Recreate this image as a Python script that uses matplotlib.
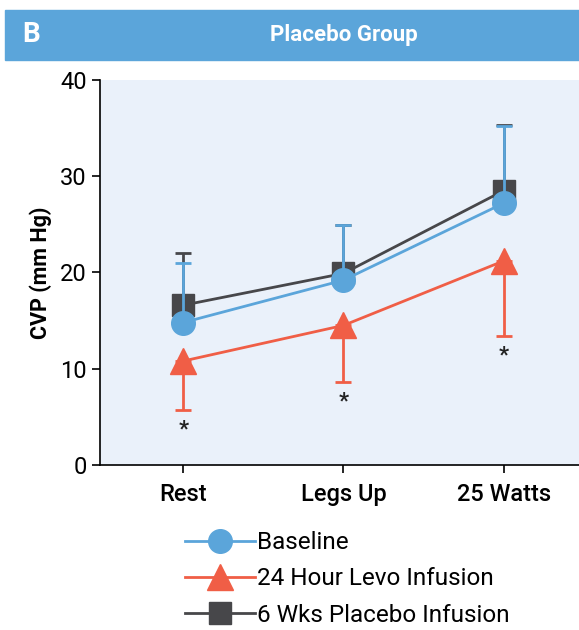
import numpy as np
import matplotlib.pyplot as plt
from matplotlib.patches import Rectangle

plt.rcParams['font.family'] = ['Roboto', 'DejaVu Sans']

categories = ['Rest', 'Legs Up', '25 Watts']
baseline = [14.8, 19.2, 27.2]
baseline_err = [6.2, 5.7, 8.0]
levo = [10.8, 14.5, 21.2]
levo_err = [5.1, 5.9, 7.8]
placebo = [16.6, 19.9, 28.5]
placebo_err = [5.4, 5.0, 6.8]
stars = ['*', '*', '*']

blue = '#5BA5DA'
red = '#F05E46'
gray = '#47474A'

fig = plt.figure(figsize=(5.79, 6.3), dpi=100)
ax = fig.add_axes([0.1727, 0.262, 0.83, 0.611])
ax.set_facecolor('#EAF1FA')

x = np.arange(len(categories))

# placebo (drawn first, sits behind baseline)
ax.errorbar(x, placebo, yerr=[np.zeros(3), placebo_err], color=gray, lw=2,
            marker='s', ms=16, capsize=6, capthick=2, zorder=2)
ax.errorbar(x, baseline, yerr=[np.zeros(3), baseline_err], color=blue, lw=2,
            marker='o', ms=17, capsize=6, capthick=2, zorder=3)
ax.errorbar(x, levo, yerr=[levo_err, np.zeros(3)], color=red, lw=2,
            marker='^', ms=19, capsize=6, capthick=2, zorder=4)

for xi, v, e, s in zip(x, levo, levo_err, stars):
    ax.text(xi, v - e - 0.9, s, ha='center', va='top', fontsize=16,
            fontweight='bold', color='#222222')

ax.set_xlim(-0.52, 2.48)
ax.set_ylim(0, 40)
ax.set_yticks([0, 10, 20, 30, 40])
ax.set_xticks(x)
ax.set_xticklabels(categories, fontsize=17, fontweight='medium')
ax.tick_params(axis='y', labelsize=17, length=6, width=1.2)
ax.tick_params(axis='x', length=6, width=1.2, pad=7)
ax.spines['top'].set_visible(False)
ax.spines['right'].set_visible(False)
ax.spines['left'].set_linewidth(1.2)
ax.spines['bottom'].set_linewidth(1.2)
ax.set_ylabel('CVP (mm Hg)', fontsize=15.5, fontweight='bold', labelpad=6)

# header bar
fig.patches.append(Rectangle((5 / 579, 1 - 60 / 630), 1, 50 / 630,
                             transform=fig.transFigure, color=blue,
                             zorder=0))
fig.text(22 / 579, 1 - 35 / 630, 'B', color='white', fontsize=20,
         fontweight='bold', va='center', ha='left')
fig.text(344 / 579, 1 - 35 / 630, 'Placebo Group', color='white',
         fontsize=16, fontweight='bold', va='center', ha='center')

# legend
h1, = ax.plot([], [], color=blue, lw=2, marker='o', ms=17)
h2, = ax.plot([], [], color=red, lw=2, marker='^', ms=19)
h3, = ax.plot([], [], color=gray, lw=2, marker='s', ms=16)
fig.legend([h1, h2, h3], ['Baseline', '24 Hour Levo Infusion',
                          '6 Wks Placebo Infusion'],
           loc='upper left', bbox_to_anchor=(0.3195, 0.157), frameon=False,
           fontsize=17.5, handlelength=2.9, labelspacing=0.55,
           handletextpad=0.05, borderaxespad=0, borderpad=0)

fig.savefig('out.png', dpi=100)
